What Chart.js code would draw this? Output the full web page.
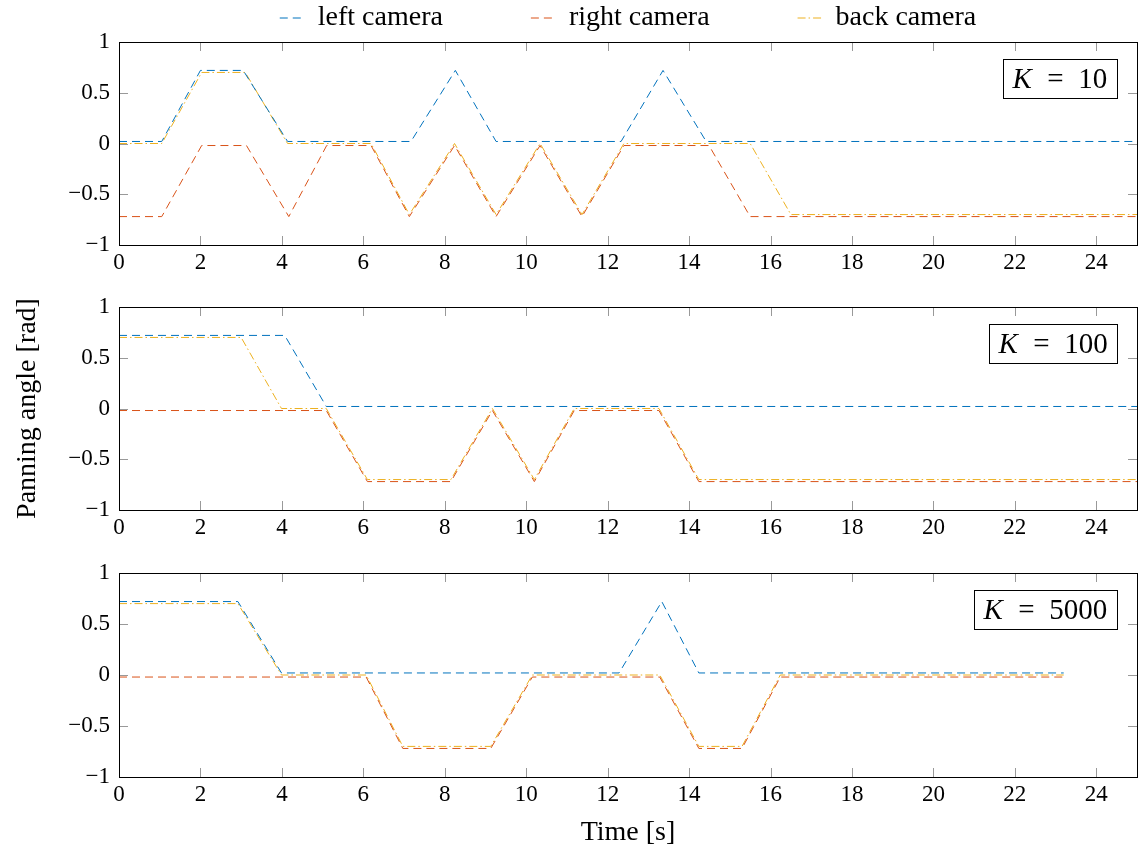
<!DOCTYPE html>
<html>
<head>
<meta charset="utf-8">
<script src="https://cdn.jsdelivr.net/npm/chart.js@4.4.1/dist/chart.umd.min.js"></script>
<style>
  html, body { margin: 0; padding: 0; background: #fff; }
  #wrap { position: relative; width: 1139px; height: 852px; overflow: hidden; }
  canvas { position: absolute; left: 0; }
</style>
</head>
<body>
<div id="wrap">
  <canvas id="c1" width="1139" height="280" style="top:0px"></canvas>
  <canvas id="c2" width="1139" height="265" style="top:280px"></canvas>
  <canvas id="c3" width="1139" height="307" style="top:545px"></canvas>
</div>
<script>
// series names + colours (matlab default ones)
const seriesNames = ["left camera", "right camera", "back camera"];
const seriesColors = ["#0072BD", "#D95319", "#EDB120"];

const xTicksStep = 2;
const yTickValues = [-1, -0.5, 0, 0.5, 1];

// [time, angle] pairs
// K = 10
const k10Left = [[0,0.02],[1.05,0.02],[2.0,0.72],[3.05,0.72],[4.14,0.02],[7.17,0.02],[8.26,0.72],[9.26,0.02],[12.33,0.02],[13.36,0.72],[14.42,0.02],[25,0.02]];
const k10Right = [[0,-0.72],[1.05,-0.72],[2.03,-0.02],[3.13,-0.02],[4.17,-0.72],[5.1,-0.02],[6.19,-0.02],[7.13,-0.72],[8.24,-0.02],[9.26,-0.72],[10.34,-0.02],[11.37,-0.72],[12.4,-0.02],[14.49,-0.02],[15.5,-0.72],[25,-0.72]];
const k10Back = [[0,0],[1.05,0],[2.03,0.70],[3.1,0.70],[4.14,0],[6.19,0],[7.13,-0.70],[8.24,0],[9.26,-0.70],[10.34,0],[11.37,-0.70],[12.4,0],[15.5,0],[16.5,-0.70],[25,-0.70]];

// K = 100
const k100Left = [[0,0.72],[4.07,0.72],[5.09,0.02],[25,0.02]];
const k100Right = [[0,-0.02],[5.09,-0.02],[6.1,-0.72],[8.15,-0.72],[9.17,-0.02],[10.2,-0.72],[11.18,-0.02],[13.26,-0.02],[14.24,-0.72],[25,-0.72]];
const k100Back = [[0,0.70],[3.0,0.70],[3.99,0],[5.09,0],[6.1,-0.70],[8.15,-0.70],[9.17,0],[10.2,-0.70],[11.18,0],[13.26,0],[14.24,-0.70],[25,-0.70]];

// K = 5000
const k5000Left = [[0,0.72],[2.92,0.72],[3.99,0.02],[12.28,0.02],[13.33,0.72],[14.24,0.02],[23.2,0.02]];
const k5000Right = [[0,-0.02],[6.07,-0.02],[6.97,-0.72],[9.13,-0.72],[10.15,-0.02],[13.28,-0.02],[14.24,-0.72],[15.3,-0.72],[16.24,-0.02],[23.2,-0.02]];
const k5000Back = [[0,0.70],[2.92,0.70],[3.99,0],[6.07,0],[6.97,-0.70],[9.13,-0.70],[10.15,0],[13.28,0],[14.24,-0.70],[15.3,-0.70],[16.24,0],[23.2,0]];

const FONT = "'Liberation Serif', 'DejaVu Serif', serif";
const dashes = [[8, 5], [8, 5], [8, 3, 1.5, 3]];

// frame + inward ticks, like pgfplots
const framePlugin = {
  id: "frame",
  afterDraw(chart) {
    const ctx = chart.ctx, a = chart.chartArea;
    const xs = chart.scales.x, ys = chart.scales.y;
    ctx.save();
    ctx.strokeStyle = "#999";
    ctx.lineWidth = 1;
    ctx.beginPath();
    xs.ticks.forEach(t => {
      const px = Math.round(xs.getPixelForValue(t.value)) + 0.5;
      ctx.moveTo(px, a.bottom); ctx.lineTo(px, a.bottom - 9);
      ctx.moveTo(px, a.top); ctx.lineTo(px, a.top + 9);
    });
    ys.ticks.forEach(t => {
      const py = Math.round(ys.getPixelForValue(t.value)) + 0.5;
      ctx.moveTo(a.left, py); ctx.lineTo(a.left + 9, py);
      ctx.moveTo(a.right, py); ctx.lineTo(a.right - 9, py);
    });
    ctx.stroke();
    ctx.strokeStyle = "#000";
    ctx.strokeRect(Math.round(a.left) + 0.5, Math.round(a.top) + 0.5,
      Math.round(a.right - a.left), Math.round(a.bottom - a.top));
    ctx.restore();
  }
};

// the "K = .." box top right
const kBoxPlugin = {
  id: "kbox",
  afterDraw(chart, args, opts) {
    const ctx = chart.ctx, a = chart.chartArea;
    ctx.save();
    const italic = "italic 29px " + FONT, normal = "29px " + FONT;
    ctx.font = italic;
    const wK = ctx.measureText("K").width;
    ctx.font = normal;
    const rest = "\u2002=\u2002" + opts.k;
    const wR = ctx.measureText(rest).width;
    const w = Math.round(wK + wR + 20), h = 39;
    const x = Math.round(a.right - 20 - w) + 0.5, y = Math.round(a.top + 17) + 0.5;
    ctx.fillStyle = "#fff";
    ctx.fillRect(x, y, w, h);
    ctx.strokeStyle = "#000";
    ctx.lineWidth = 1;
    ctx.strokeRect(x, y, w, h);
    ctx.fillStyle = "#000";
    ctx.textBaseline = "middle";
    ctx.font = italic;
    ctx.fillText("K", x + 9, y + h / 2 + 1);
    ctx.font = normal;
    ctx.fillText(rest, x + 10 + wK, y + h / 2 + 1);
    ctx.restore();
  }
};

// legend should sit centred over the axis box, not the whole canvas
const legendCenter = {
  id: "legendCenter",
  afterLayout(chart) {
    if (chart.legend && chart.options.plugins.legend.display) {
      chart.legend.left = chart.chartArea.left;
      chart.legend.right = chart.chartArea.right;
    }
  }
};

function fmt(v) {
  if (v === 0) return "0";
  return (v < 0 ? "\u2212" : "") + String(Math.abs(v));
}

function makePanel(id, k, left, right, back, cfg) {
  const sets = [left, right, back].map((pts, i) => ({
    label: seriesNames[i],
    data: pts.map(p => ({ x: p[0], y: p[1] })),
    borderColor: seriesColors[i],
    backgroundColor: seriesColors[i],
    borderWidth: 1,
    borderDash: dashes[i],
    pointRadius: 0,
    tension: 0,
    fill: false
  }));

  return new Chart(document.getElementById(id), {
    type: "line",
    data: { datasets: sets },
    plugins: [framePlugin, kBoxPlugin, legendCenter],
    options: {
      responsive: false,
      animation: false,
      layout: { padding: cfg.padding },
      plugins: {
        tooltip: { enabled: false },
        kbox: { k: k },
        legend: cfg.legend ? {
          display: true,
          position: "top",
          labels: {
            font: { family: FONT, size: 28 },
            color: "#000",
            usePointStyle: true,
            pointStyle: "line",
            pointStyleWidth: 24,
            padding: 4,
            generateLabels: chart => {
              const items = Chart.defaults.plugins.legend.labels.generateLabels(chart);
              items.forEach((it, i) => {
                it.lineDash = dashes[i];
                it.strokeStyle = seriesColors[i];
                it.fillStyle = seriesColors[i];
                it.lineWidth = 1;
                if (i < items.length - 1) it.text += "\u2003\u2003\u2003";
              });
              return items;
            }
          }
        } : { display: false }
      },
      scales: {
        x: {
          type: "linear",
          min: 0,
          max: 25,
          grid: { display: false, drawTicks: false },
          border: { display: false },
          ticks: {
            stepSize: xTicksStep,
            includeBounds: false,
            padding: 4,
            color: "#000",
            font: { family: FONT, size: 23 },
            maxRotation: 0
          },
          title: cfg.xTitle ? {
            display: true,
            text: "Time [s]",
            color: "#000",
            font: { family: FONT, size: 28 },
            padding: { top: 0, bottom: 3 }
          } : { display: false },
          afterFit: s => { s.height = cfg.xHeight; }
        },
        y: {
          min: -1,
          max: 1,
          grid: { display: false, drawTicks: false },
          border: { display: false },
          afterBuildTicks: s => { s.ticks = yTickValues.map(v => ({ value: v })); },
          ticks: {
            padding: 9,
            color: "#000",
            font: { family: FONT, size: 23 },
            callback: v => fmt(v)
          },
          title: cfg.yTitle ? {
            display: true,
            text: "Panning angle [rad]",
            color: "#000",
            font: { family: FONT, size: 28 },
            padding: { top: 11, bottom: 0 }
          } : { display: false },
          afterFit: s => { s.width = cfg.yWidth; }
        }
      }
    }
  });
}

makePanel("c1", 10, k10Left, k10Right, k10Back, {
  padding: { left: 0, right: 2, top: 0 }, yWidth: 119, xHeight: 35, legend: true
});
makePanel("c2", 100, k100Left, k100Right, k100Back, {
  padding: { left: 0, right: 2, top: 27 }, yWidth: 119, xHeight: 35, yTitle: true
});
makePanel("c3", 5000, k5000Left, k5000Right, k5000Back, {
  padding: { left: 0, right: 2, top: 28 }, yWidth: 119, xHeight: 75, xTitle: true
});
</script>
</body>
</html>
